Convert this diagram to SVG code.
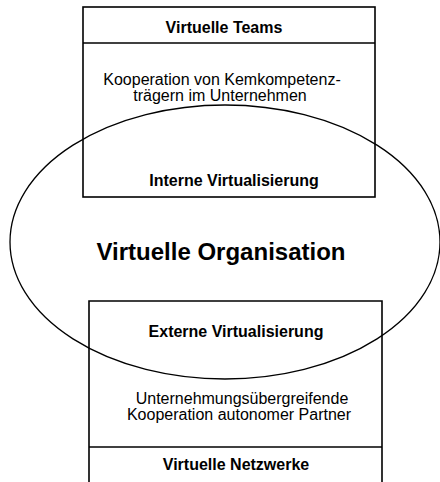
<svg xmlns="http://www.w3.org/2000/svg" width="440" height="482" viewBox="0 0 440 482">
<style>
.box{fill:none;stroke:#000;stroke-width:1.6}
.ell{fill:none;stroke:#000;stroke-width:1.3}
text{font-family:"Liberation Sans",Arial,sans-serif;fill:#000;text-anchor:middle}
.b{font-weight:bold;font-size:16px}
.r{font-size:16px}
.big{font-weight:bold;font-size:24px}
</style>
<rect width="440" height="482" fill="#fff"/>
<g id="virtuelle-teams">
<rect class="box" x="83" y="7" width="292" height="190"/>
<line class="box" x1="83" y1="43" x2="375" y2="43"/>
<text class="b" x="224" y="33">Virtuelle Teams</text>
<text class="r" x="222" y="85">Kooperation von Kemkompetenz-</text>
<text class="r" x="220" y="101">trägern im Unternehmen</text>
<text class="b" x="234" y="186">Interne Virtualisierung</text>
</g>
<g id="virtuelle-netzwerke">
<polyline class="box" points="89,484 89,301 382,301 382,484"/>
<line class="box" x1="89" y1="447" x2="382" y2="447"/>
<text class="b" x="236" y="337">Externe Virtualisierung</text>
<text class="r" x="242" y="404">Unternehmungsübergreifende</text>
<text class="r" x="239" y="420">Kooperation autonomer Partner</text>
<text class="b" x="236" y="470">Virtuelle Netzwerke</text>
</g>
<g id="virtuelle-organisation">
<ellipse class="ell" cx="225" cy="242" rx="215" ry="137"/>
<text class="big" x="221" y="260">Virtuelle Organisation</text>
</g>
<g id="connectors"></g>
</svg>
